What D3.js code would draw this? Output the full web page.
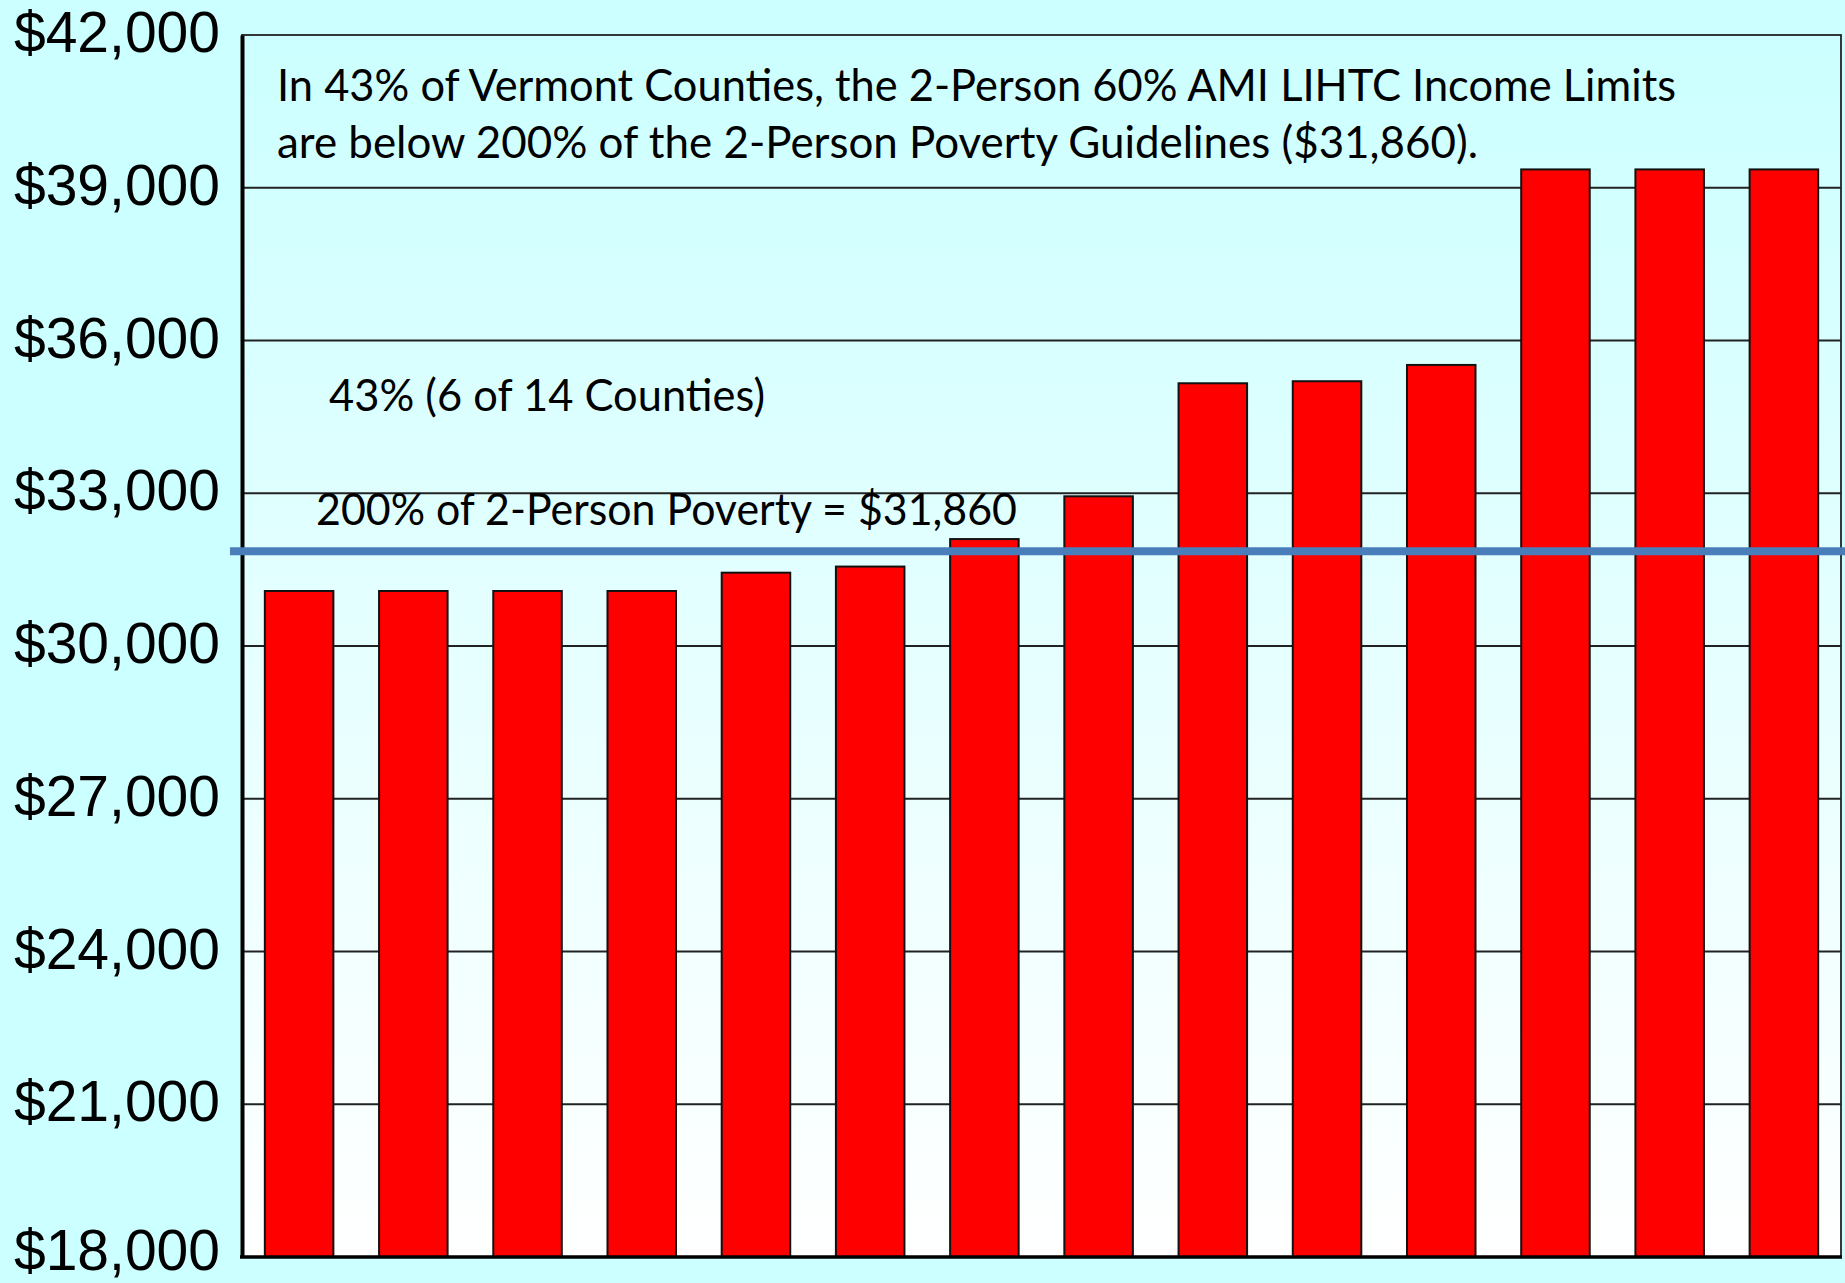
<!DOCTYPE html>
<html>
<head>
<meta charset="utf-8">
<script src="https://cdn.jsdelivr.net/npm/d3@7"></script>
<style>
  html, body { margin: 0; padding: 0; background: #ccffff; }
  svg { display: block; }
</style>
</head>
<body>
<svg id="chart" width="1845" height="1283"></svg>
<script>
// ---- data ----
const counties = ["C1","C2","C3","C4","C5","C6","C7","C8","C9","C10","C11","C12","C13","C14"];
const incomeLimits = [31080, 31080, 31080, 31080, 31440, 31560, 32100, 32940, 35160, 35200, 35520, 39360, 39360, 39360];
const povertyLine = 31860;
const yTicks = [18000, 21000, 24000, 27000, 30000, 33000, 36000, 39000, 42000];
const titleLines = [
  "In 43% of Vermont Counties, the 2-Person 60% AMI LIHTC Income Limits",
  "are below 200% of the 2-Person Poverty Guidelines ($31,860)."
];
const shareLabel = "43% (6 of 14 Counties)";
const povertyLabel = "200% of 2-Person Poverty = $31,860";

(function () {
// ---- layout ----
const W = 1845, H = 1283;
const pLeft = 242, pRight = 1841, pTop = 35, pBottom = 1257;

const svg = d3.select("#chart");
svg.append("rect").attr("width", W).attr("height", H).attr("fill", "#ccffff");

const defs = svg.append("defs");
const grad = defs.append("linearGradient").attr("id", "bg").attr("x1", 0).attr("y1", 0).attr("x2", 0).attr("y2", 1);
grad.append("stop").attr("offset", "0%").attr("stop-color", "#ccffff");
grad.append("stop").attr("offset", "100%").attr("stop-color", "#ffffff");

const x = d3.scaleBand().domain(counties).range([pLeft, pRight]).paddingInner(0.4).paddingOuter(0.2);
const y = d3.scaleLinear().domain([18000, 42000]).range([pBottom, pTop]);

// plot background
svg.append("rect").attr("x", pLeft).attr("y", pTop).attr("width", pRight - pLeft).attr("height", pBottom - pTop)
  .attr("fill", "url(#bg)");

// gridlines
svg.append("g").selectAll("line").data(yTicks.filter(t => t > 18000 && t < 42000)).join("line")
  .attr("x1", pLeft).attr("x2", pRight)
  .attr("y1", d => y(d)).attr("y2", d => y(d))
  .attr("stroke", "#222").attr("stroke-width", 1.8);

// frame (top/right)
svg.append("rect").attr("x", pLeft).attr("y", pTop).attr("width", pRight - pLeft).attr("height", pBottom - pTop)
  .attr("fill", "none").attr("stroke", "#222").attr("stroke-width", 1.8);

// bars
svg.append("g").selectAll("rect").data(incomeLimits).join("rect")
  .attr("x", (d, i) => x(counties[i]))
  .attr("width", x.bandwidth())
  .attr("y", d => y(d))
  .attr("height", d => pBottom - y(d))
  .attr("fill", "#ff0000")
  .attr("stroke", "#111").attr("stroke-width", 2);

// axes
const yAxis = d3.axisLeft(y).tickValues(yTicks).tickSize(0).tickPadding(22)
  .tickFormat(d => "$" + d3.format(",")(d));
const ga = svg.append("g").attr("transform", `translate(${pLeft},0)`).call(yAxis);
ga.select(".domain").attr("stroke", "#000").attr("stroke-width", 4);
ga.selectAll("text")
  .attr("font-family", "'Liberation Sans', Arial, sans-serif")
  .attr("font-size", 57).attr("fill", "#000")
  .attr("dy", d => d === 18000 ? "0.22em" : "0.29em");

svg.append("line").attr("x1", pLeft - 2).attr("x2", pRight + 1).attr("y1", pBottom).attr("y2", pBottom)
  .attr("stroke", "#000").attr("stroke-width", 3.5);

// poverty line
svg.append("line").attr("x1", 230).attr("x2", W).attr("y1", y(povertyLine)).attr("y2", y(povertyLine))
  .attr("stroke", "#4a7ebb").attr("stroke-width", 8);

// annotations (Calibri-like; Lato compressed to the reference widths)
const ann = svg.append("g").attr("font-family", "Lato, 'Open Sans', sans-serif")
  .attr("fill", "#000").attr("font-size", 44);
const items = [
  {t: titleLines[0], x: 277, y: 101, w: 1399},
  {t: titleLines[1], x: 277, y: 158, w: 1201},
  {t: shareLabel,    x: 329, y: 411, w: 436},
  {t: povertyLabel,  x: 316, y: 525, w: 701}
];
items.forEach(d => {
  ann.append("text").attr("x", d.x).attr("y", d.y)
    .attr("textLength", d.w).attr("lengthAdjust", "spacingAndGlyphs").text(d.t);
});
})();
</script>
</body>
</html>
